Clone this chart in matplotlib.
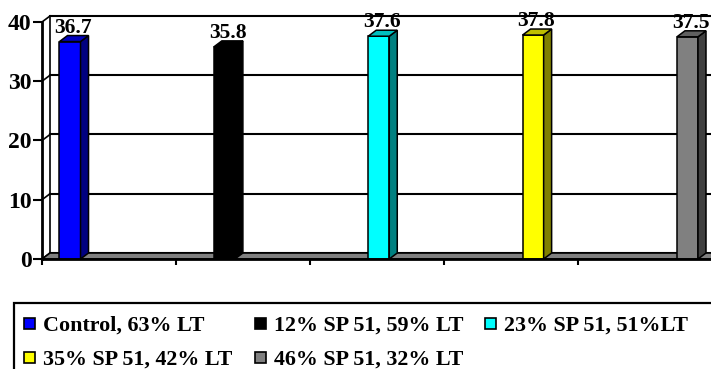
import matplotlib
matplotlib.use("Agg")
import matplotlib.pyplot as plt
from matplotlib.patches import Polygon, Rectangle
from matplotlib.transforms import offset_copy
from matplotlib.colors import to_rgb

# ---- data ----
series = ["Control, 63% LT", "12% SP 51, 59% LT", "23% SP 51, 51%LT",
          "35% SP 51, 42% LT", "46% SP 51, 32% LT"]
values = [36.7, 35.8, 37.6, 37.8, 37.5]
value_labels = ["36.7", "35.8", "37.6", "37.8", "37.5"]
colors = ["#0000FF", "#000000", "#00FFFF", "#FFFF00", "#808080"]
yticks = [0, 10, 20, 30, 40]

W, H = 711, 369
FONT = "Liberation Serif"

fig = plt.figure(figsize=(W / 100, H / 100), dpi=100)
fig.patch.set_facecolor("white")

# front plane of the plot box, in pixels
x0, x1 = 42, 712
y_top, y_bot = 22, 259
ax = fig.add_axes([x0 / W, (H - y_bot) / H, (x1 - x0) / W, (y_bot - y_top) / H])
ax.set_xlim(0, 5)
ax.set_ylim(0, 40)
ax.patch.set_alpha(0)

# depth of the pseudo-3D box in pixels and in data units
DX, DY = 8, 6
dxd = DX / ((x1 - x0) / 5)
dyd = DY / ((y_bot - y_top) / 40)
back = offset_copy(ax.transData, fig=fig, x=DX, y=DY, units="dots")

# back wall gridlines and side-wall diagonals
for v in yticks:
    ax.plot([0, 5], [v, v], color="black", lw=1.5, transform=back,
            clip_on=False, zorder=1)
    ax.plot([0, dxd], [v, v + dyd], color="black", lw=1.2,
            clip_on=False, zorder=1)
ax.plot([0, 0], [0, 40], color="black", lw=1.2, transform=back,
        clip_on=False, zorder=1)

# floor
floor = Polygon([[0, 0], [5, 0], [5 + dxd, dyd], [dxd, dyd]], closed=True,
                facecolor="#808080", edgecolor="black", lw=1.2,
                clip_on=False, zorder=1.5)
ax.add_patch(floor)

# columns
width = 0.157
xs = [0.209 + 1.152 * i for i in range(len(values))]


def shade(c, k):
    r, g, b = to_rgb(c)
    return (r * k, g * k, b * k)


ax.bar(xs, values, width=width, color=colors, edgecolor="black",
       linewidth=1.1, zorder=3, clip_on=False)
for x, v, c in zip(xs, values, colors):
    l, r = x - width / 2, x + width / 2
    side = Polygon([[r, 0], [r + dxd, dyd], [r + dxd, v + dyd], [r, v]],
                   closed=True, facecolor=shade(c, 0.5), edgecolor="black",
                   lw=1.1, zorder=3, clip_on=False)
    top = Polygon([[l, v], [r, v], [r + dxd, v + dyd], [l + dxd, v + dyd]],
                  closed=True, facecolor=shade(c, 0.75), edgecolor="black",
                  lw=1.1, zorder=3, clip_on=False)
    ax.add_patch(side)
    ax.add_patch(top)

lab_tr = offset_copy(ax.transData, fig=fig, x=0, y=DY + 3, units="dots")
for x, v, t in zip(xs, values, value_labels):
    ax.text(x + dxd * 0.4, v, t, transform=lab_tr, ha="center", va="baseline",
            fontsize=15.5, fontweight="bold", family=FONT, zorder=5,
            clip_on=False)

# axes lines and ticks
for s in ["top", "right"]:
    ax.spines[s].set_visible(False)
for s in ["left", "bottom"]:
    ax.spines[s].set_linewidth(2)
    ax.spines[s].set_zorder(4)
ax.set_yticks(yticks)
ax.set_yticklabels([str(t) for t in yticks], fontsize=17, fontweight="bold",
                   family=FONT)
ax.tick_params(axis="y", direction="out", length=6.5, width=1.5, pad=1)
ax.set_xticks([0, 1, 2, 3, 4])
ax.set_xticklabels([])
ax.tick_params(axis="x", direction="out", length=4.5, width=1.5)

# legend box
def fx(px):
    return px / W


def fy(py):
    return (H - py) / H


fig.patches.append(Rectangle((fx(14), fy(375)), fx(720) - fx(14), fy(303) - fy(375),
                             transform=fig.transFigure, facecolor="white",
                             edgecolor="black", lw=1.6, zorder=1))
leg_pos = [(24, 323), (255, 323), (485, 323), (24, 357), (255, 357)]
for (mx, my), name, c in zip(leg_pos, series, colors):
    fig.patches.append(Rectangle((fx(mx), fy(my + 5.5)), fx(11), 11 / H,
                                 transform=fig.transFigure, facecolor=c,
                                 edgecolor="black", lw=1.2, zorder=2))
    fig.text(fx(mx + 19), fy(my), name, ha="left", va="center_baseline",
             fontsize=15.8, fontweight="bold", family=FONT, zorder=3)

fig.savefig("out.png", dpi=100, facecolor="white")
